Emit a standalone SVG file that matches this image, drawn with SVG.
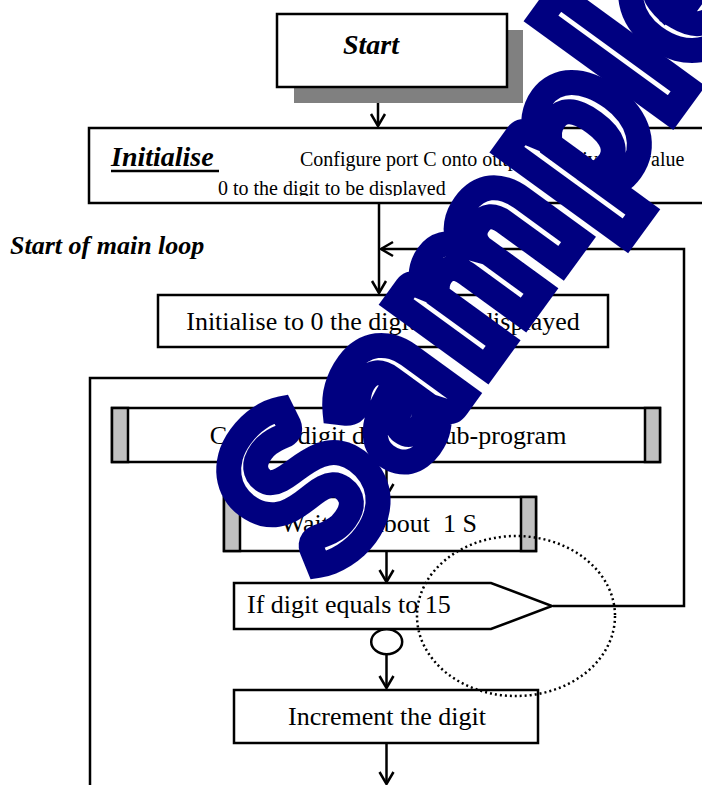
<svg xmlns="http://www.w3.org/2000/svg" width="702" height="785" viewBox="0 0 702 785">
  <style>
    .box{fill:#fff;stroke:#000;stroke-width:2.5}
    .bar{fill:#c0c0c0;stroke:#000;stroke-width:2.5}
    .t{font-family:"Liberation Serif","Times New Roman",serif;font-size:26px;fill:#000}
    .s{font-size:20px}
    .bi{font-weight:bold;font-style:italic}
    .ln{fill:none;stroke:#000;stroke-width:2.5}
    .wm{font-family:Lato,"DejaVu Sans",sans-serif;font-weight:900;font-size:215px;fill:#fff;stroke:#000080;stroke-width:25}
  </style>
  <defs>
    <marker id="vhead" markerUnits="userSpaceOnUse" markerWidth="20" markerHeight="20" refX="14" refY="8" orient="auto" overflow="visible">
      <path d="M2,1 L14,8 L2,15" fill="none" stroke="#000" stroke-width="2.5"/>
    </marker>
    <marker id="fhead" markerUnits="userSpaceOnUse" markerWidth="20" markerHeight="14" refX="16" refY="6" orient="auto" overflow="visible">
      <path d="M0,0 L16,6 L0,12 z" fill="#000"/>
    </marker>
    <clipPath id="initClip">
      <rect x="89" y="128" width="620" height="68"/>
    </clipPath>
  </defs>

  <!-- connectors -->
  <g id="connectors">
    <path class="ln" d="M378,88 V126" marker-end="url(#vhead)"/>
    <path class="ln" d="M379,203 V293" marker-end="url(#vhead)"/>
    <path class="ln" d="M553,606 H684 V249 H381" marker-end="url(#vhead)"/>
    <path class="ln" d="M386.5,347 V407" marker-end="url(#vhead)"/>
    <path class="ln" d="M90,786 V378 H385" marker-end="url(#fhead)"/>
    <path class="ln" d="M386.5,462 V496" marker-end="url(#vhead)"/>
    <path class="ln" d="M386.5,551 V582" marker-end="url(#vhead)"/>
    <path class="ln" d="M386.5,654 V688" marker-end="url(#vhead)"/>
    <path class="ln" d="M386.5,743 V784" marker-end="url(#vhead)"/>
  </g>

  <!-- start terminal with drop shadow -->
  <g id="start">
    <rect x="294" y="30" width="229" height="73" fill="#808080"/>
    <rect class="box" x="277" y="14" width="230" height="73"/>
    <text class="t bi" x="343" y="54" style="font-size:28px">Start</text>
  </g>

  <!-- initialisation block -->
  <g id="initialise">
    <rect class="box" x="89" y="128" width="640" height="75"/>
    <text class="t bi" x="111" y="166" style="font-size:28px">Initialise</text>
    <line x1="111" y1="171" x2="219" y2="171" stroke="#000" stroke-width="2.5"/>
    <text class="t s" x="300" y="166">Configure port C onto output and give the value</text>
    <text class="t s" x="218" y="195" clip-path="url(#initClip)">0 to the digit to be displayed</text>
  </g>

  <g id="main-loop-label">
    <text class="t bi" x="10" y="254">Start of main loop</text>
  </g>

  <g id="init-digit">
    <rect class="box" x="158" y="295" width="450" height="52"/>
    <text class="t" x="383" y="330" text-anchor="middle">Initialise to 0 the digit to be displayed</text>
  </g>

  <g id="call-display">
    <rect class="box" x="112" y="408" width="548" height="54"/>
    <rect class="bar" x="112" y="408" width="16" height="54"/>
    <rect class="bar" x="645" y="408" width="15" height="54"/>
    <text class="t" x="388" y="444" text-anchor="middle">Call the digit display sub-program</text>
  </g>

  <g id="wait">
    <rect class="box" x="224" y="497" width="312" height="54"/>
    <rect class="bar" x="224" y="497" width="16" height="54"/>
    <rect class="bar" x="521" y="497" width="15" height="54"/>
    <text class="t" x="477" y="532" text-anchor="end" style="white-space:pre">Wait for about  1 S</text>
  </g>

  <g id="test-digit">
    <polygon class="box" points="234,583 491,583 552,606 491,629 234,629"/>
    <text class="t" x="247" y="613">If digit equals to 15</text>
  </g>

  <g id="no-branch">
    <ellipse cx="386.7" cy="641.7" rx="15.5" ry="12.5" fill="#fff" stroke="#000" stroke-width="2.5"/>
  </g>

  <g id="increment">
    <rect class="box" x="234" y="690" width="304" height="53"/>
    <text class="t" x="387" y="725" text-anchor="middle">Increment the digit</text>
  </g>

  <g id="highlight">
    <ellipse cx="516" cy="616" rx="99" ry="80" fill="none" stroke="#000" stroke-width="2.5" stroke-dasharray="2 3"/>
  </g>

  <!-- watermark: each glyph centred on its own x along the slanted baseline -->
  <g id="watermark">
    <text class="wm" transform="translate(492.4,357.9) rotate(-54)" text-anchor="middle" x="-215 -91 67 226 318 406" y="0">Sample</text>
  </g>
</svg>
